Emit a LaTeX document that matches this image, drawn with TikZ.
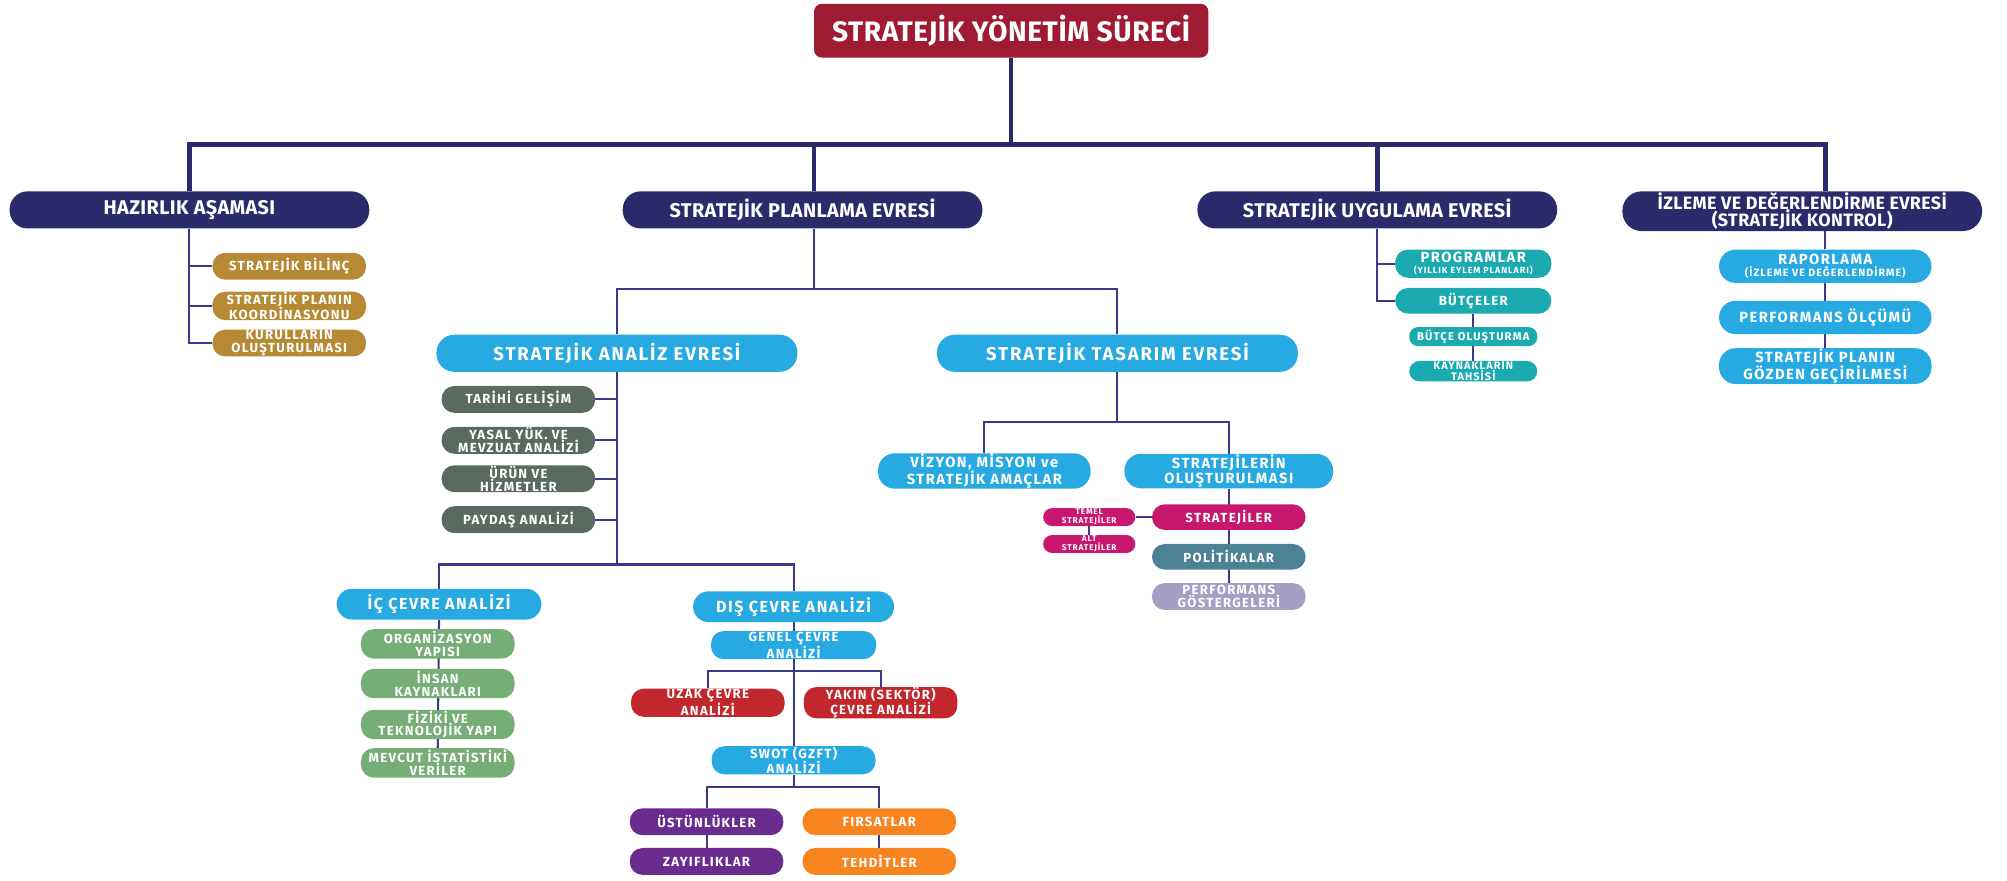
\documentclass[tikz,border=0pt]{standalone}
\usepackage{fontspec}
\setmainfont{Fira Sans}
\newfontfamily\phasefont{Fira Sans}[LetterSpace=2]
\newfontfamily\boxfont{Fira Sans}[LetterSpace=10]
\usepackage{xcolor}
\usepackage{tikz}
\usetikzlibrary{backgrounds}

\definecolor{titlered}{HTML}{9E1B32}
\definecolor{navyc}{HTML}{2B2A6B}
\definecolor{linec}{HTML}{3B3A8A}
\definecolor{bluec}{HTML}{27A9E1}
\definecolor{goldc}{HTML}{B68A35}
\definecolor{grayc}{HTML}{5B6A60}
\definecolor{greenc}{HTML}{77AE76}
\definecolor{redc}{HTML}{C1272D}
\definecolor{purplec}{HTML}{6A2C8F}
\definecolor{orangec}{HTML}{F7841F}
\definecolor{magentac}{HTML}{C8176F}
\definecolor{tealc}{HTML}{1BAAAF}
\definecolor{politc}{HTML}{4C8295}
\definecolor{lavc}{HTML}{A59FC6}

\tikzset{
  pill/.style={rectangle, text=white, align=center, inner sep=0pt,
    minimum width=120pt, minimum height=21pt, rounded corners=10pt,
    font=\boxfont\bfseries\fontsize{10.3}{10}\selectfont},
  titlebox/.style={pill, fill=titlered, minimum width=308pt, minimum height=42pt,
    rounded corners=6pt, font=\phasefont\bfseries\fontsize{22}{24}\selectfont},
  phase/.style={pill, fill=navyc, minimum width=281pt, minimum height=29pt,
    rounded corners=14pt, font=\phasefont\bfseries\fontsize{15.5}{15}\selectfont},
  bigblue/.style={pill, fill=bluec, minimum width=282pt, minimum height=29pt,
    rounded corners=14pt, font=\boxfont\bfseries\fontsize{14.5}{15}\selectfont},
  midblue/.style={pill, fill=bluec, minimum width=166pt, minimum height=27pt,
    rounded corners=13pt, font=\boxfont\bfseries\fontsize{11.5}{12}\selectfont},
  tinybox/.style={pill, fill=magentac, minimum width=72pt, minimum height=14pt,
    rounded corners=7pt, font=\boxfont\bfseries\fontsize{6.5}{6}\selectfont},
  mainline/.style={draw=navyc, line width=3.5pt},
  subline/.style={draw=linec, line width=1.6pt},
}

\begin{document}
\begin{tikzpicture}[x=1pt,y=-1pt]
  \useasboundingbox (0,0) rectangle (1568,688);
  % Root and phases
  \node[titlebox] (title) at (790,24) {STRATEJİK YÖNETİM SÜRECİ};
  \node[phase] (hazir) at (148,164) {HAZIRLIK AŞAMASI};
  \node[phase] (plan) at (627,164) {STRATEJİK PLANLAMA EVRESİ};
  \node[phase] (uygula) at (1076,164) {STRATEJİK UYGULAMA EVRESİ};
  \node[phase, minimum height=31pt, rounded corners=15pt,
    font=\phasefont\bfseries\fontsize{14}{13.5}\selectfont] (izleme) at (1408,165)
    {İZLEME VE DEĞERLENDİRME EVRESİ\\(STRATEJİK KONTROL)};
  % Hazirlik
  \node[pill, fill=goldc] (bilinc) at (226,208) {STRATEJİK BİLİNÇ};
  \node[pill, fill=goldc] (koord) at (226,239) {STRATEJİK PLANIN\\KOORDİNASYONU};
  \node[pill, fill=goldc] (kurul) at (226,268) {KURULLARIN\\OLUŞTURULMASI};
  % Planlama
  \node[bigblue] (analiz) at (482,276) {STRATEJİK ANALİZ EVRESİ};
  \node[bigblue] (tasarim) at (873,276) {STRATEJİK TASARIM EVRESİ};
  \node[pill, fill=grayc] (tarihi) at (405,312) {TARİHİ GELİŞİM};
  \node[pill, fill=grayc] (yasal) at (405,344) {YASAL YÜK. VE\\MEVZUAT ANALİZİ};
  \node[pill, fill=grayc] (urun) at (405,374) {ÜRÜN VE\\HİZMETLER};
  \node[pill, fill=grayc] (paydas) at (405,406) {PAYDAŞ ANALİZİ};
  \node[midblue, minimum width=160pt, minimum height=24pt, rounded corners=12pt,
    font=\boxfont\bfseries\fontsize{12.5}{12}\selectfont] (ic) at (343,472) {İÇ ÇEVRE ANALİZİ};
  \node[midblue, minimum width=157pt, minimum height=24pt, rounded corners=12pt,
    font=\boxfont\bfseries\fontsize{12.5}{12}\selectfont] (dis) at (620,474) {DIŞ ÇEVRE ANALİZİ};
  \node[pill, fill=greenc, minimum height=23pt] (org) at (342,503) {ORGANİZASYON\\YAPISI};
  \node[pill, fill=greenc, minimum height=23pt] (insan) at (342,534) {İNSAN\\KAYNAKLARI};
  \node[pill, fill=greenc, minimum height=23pt] (fiziki) at (342,566) {FİZİKİ VE\\TEKNOLOJİK YAPI};
  \node[pill, fill=greenc, minimum height=23pt] (mevcut) at (342,596) {MEVCUT İSTATİSTİKİ\\VERİLER};
  \node[pill, fill=bluec, minimum width=129pt, minimum height=22pt] (genel) at (620,504) {GENEL ÇEVRE\\ANALİZİ};
  \node[pill, fill=redc, minimum height=22pt] (uzak) at (553,549) {UZAK ÇEVRE\\ANALİZİ};
  \node[pill, fill=redc, minimum height=22pt] (yakin) at (688,549) {YAKIN (SEKTÖR)\\ÇEVRE ANALİZİ};
  \node[pill, fill=bluec, minimum width=128pt, minimum height=22pt] (swot) at (620,594) {SWOT (GZFT)\\ANALİZİ};
  \node[pill, fill=purplec] (ustun) at (552,642) {ÜSTÜNLÜKLER};
  \node[pill, fill=orangec] (firsat) at (687,642) {FIRSATLAR};
  \node[pill, fill=purplec] (zayif) at (552,673) {ZAYIFLIKLAR};
  \node[pill, fill=orangec] (tehdit) at (687,673) {TEHDİTLER};
  % Tasarim
  \node[midblue] (vizyon) at (769,368) {VİZYON, MİSYON ve\\STRATEJİK AMAÇLAR};
  \node[midblue, minimum width=163pt] (olustur) at (960,368) {STRATEJİLERİN\\OLUŞTURULMASI};
  \node[pill, fill=magentac, minimum height=20pt] (strat) at (960,404) {STRATEJİLER};
  \node[pill, fill=politc, minimum height=20pt] (polit) at (960,435) {POLİTİKALAR};
  \node[pill, fill=lavc] (perf) at (960,466) {PERFORMANS\\GÖSTERGELERİ};
  \node[tinybox] (temel) at (851,404) {TEMEL\\STRATEJİLER};
  \node[tinybox] (alt) at (851,425) {ALT\\STRATEJİLER};
  % Uygulama
  \node[pill, fill=tealc, minimum width=122pt, minimum height=22pt,
    font=\boxfont\bfseries\fontsize{11.5}{8.5}\selectfont] (program) at (1151,206)
    {PROGRAMLAR\\{\fontsize{7}{7}\selectfont (YILLIK EYLEM PLANLARI)}};
  \node[pill, fill=tealc, minimum width=122pt, minimum height=20pt] (butce) at (1151,235) {BÜTÇELER};
  \node[pill, fill=tealc, minimum width=100pt, minimum height=15pt, rounded corners=7pt,
    font=\boxfont\bfseries\fontsize{8.8}{8}\selectfont] (butceol) at (1151,263) {BÜTÇE OLUŞTURMA};
  \node[pill, fill=tealc, minimum width=100pt, minimum height=16pt, rounded corners=8pt,
    font=\boxfont\bfseries\fontsize{8.5}{7.5}\selectfont] (kaynak) at (1151,290) {KAYNAKLARIN\\TAHSİSİ};
  % Izleme
  \node[midblue, minimum height=26pt, font=\boxfont\bfseries\fontsize{11.5}{9.5}\selectfont] (rapor) at (1426,208)
    {RAPORLAMA\\{\fontsize{8.3}{8}\selectfont (İZLEME VE DEĞERLENDİRME)}};
  \node[midblue, minimum height=26pt] (perfol) at (1426,248) {PERFORMANS ÖLÇÜMÜ};
  \node[midblue, minimum height=28pt] (gozden) at (1426,286) {STRATEJİK PLANIN\\GÖZDEN GEÇİRİLMESİ};

  % Connectors
  \begin{scope}[on background layer]
    \coordinate (bus) at (790,113);
    \draw[mainline] (title) -- (bus);
    \draw[mainline] (hazir.north) |- (bus) -| (rapor.north |- izleme.north);
    \draw[mainline] ([xshift=9pt]plan.north) |- (bus);
    \draw[mainline] (uygula.north) |- (bus);
    % hazirlik list
    \draw[subline] (hazir.south) |- (bilinc.west);
    \draw[subline] (hazir.south) |- (koord.west);
    \draw[subline] (hazir.south) |- (kurul.west);
    % planlama
    \coordinate (pbus) at ([xshift=9pt]plan.south |- 0,226);
    \draw[subline] ([xshift=9pt]plan.south) -- (pbus);
    \draw[subline] (analiz.north) |- (pbus) -| (tasarim.north);
    % analiz
    \coordinate (abus) at (analiz.south |- 0,441);
    \draw[subline] (analiz.south) -- (abus);
    \foreach \n in {tarihi,yasal,urun,paydas}
      \draw[subline] (analiz.south) |- (\n.east);
    \draw[subline] (ic.north) |- (abus) -| (dis.north);
    \draw[subline] (ic.south) -- (mevcut.north);
    \draw[subline] (dis.south) -- (swot.north);
    \coordinate (gbus) at (620,524);
    \draw[subline] (uzak.north) |- (gbus) -| (yakin.north);
    \coordinate (sbus) at (620,615);
    \draw[subline] (swot.south) -- (sbus);
    \draw[subline] (ustun.north) |- (sbus) -| (firsat.north);
    \draw[subline] (ustun) -- (zayif);
    \draw[subline] (firsat) -- (tehdit);
    % tasarim
    \coordinate (tbus) at (873,330);
    \draw[subline] (tasarim.south) -- (tbus);
    \draw[subline] (vizyon.north) |- (tbus) -| (olustur.north);
    \draw[subline] (olustur.south) -- (perf.north);
    \draw[subline] (temel.east) -- (strat.west);
    \draw[subline] (temel) -- (alt);
    % uygulama
    \draw[subline] (uygula.south) |- (program.west);
    \draw[subline] (uygula.south) |- (butce.west);
    \draw[subline] (butce.south) -- (kaynak.north);
    % izleme
    \draw[subline] (rapor.north |- izleme.south) -- (rapor.north);
    \draw[subline] (rapor) -- (gozden);
  \end{scope}
\end{tikzpicture}
\end{document}
